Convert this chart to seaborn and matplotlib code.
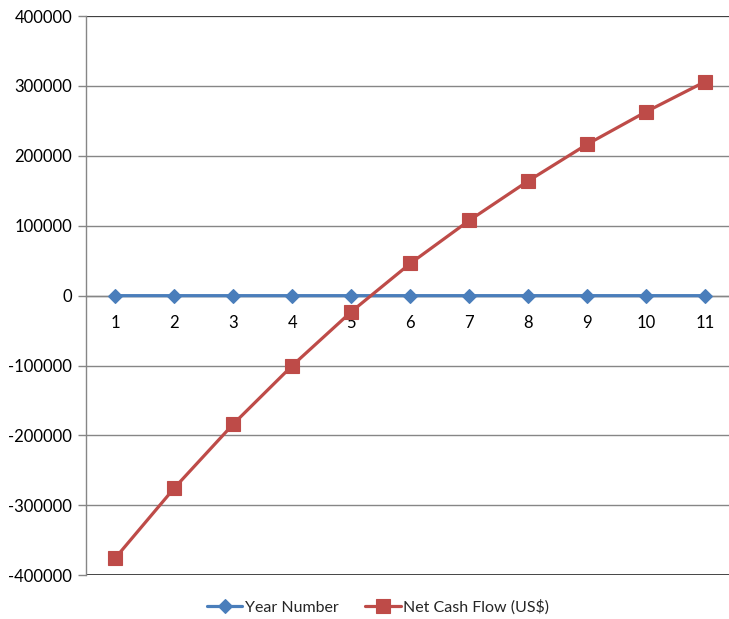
import matplotlib
matplotlib.use("Agg")
import matplotlib.pyplot as plt
from matplotlib.ticker import MultipleLocator, FixedLocator, FuncFormatter
import seaborn as sns
import pandas as pd

# Series data
years = [1, 2, 3, 4, 5, 6, 7, 8, 9, 10, 11]
year_number = [1, 2, 3, 4, 5, 6, 7, 8, 9, 10, 11]
net_cash_flow = [-375000, -275000, -183500, -100000, -23000, 46000,
                 107500, 164000, 216500, 263000, 306000]
series_names = ["Year Number", "Net Cash Flow (US$)"]

df = pd.DataFrame({
    "pos": list(range(len(years))) * 2,
    "value": year_number + net_cash_flow,
    "series": [series_names[0]] * len(years) + [series_names[1]] * len(years),
})

sns.set_theme(style="white")
plt.rcParams["font.family"] = ["Lato", "DejaVu Sans"]

fig = plt.figure(figsize=(7.29, 6.19), dpi=100)
ax = fig.add_axes([86 / 729, 43.7 / 619, 648.5 / 729, 559.3 / 619])

palette = {series_names[0]: "#4A7EBB", series_names[1]: "#BE4B48"}
markers = {series_names[0]: "D", series_names[1]: "s"}
marker_sizes = {series_names[0]: 7.5, series_names[1]: 9.5}

sns.lineplot(data=df, x="pos", y="value", hue="series", style="series",
             hue_order=series_names, style_order=series_names,
             palette=palette, markers=markers, dashes=False,
             linewidth=2.3, markersize=8, markeredgewidth=0.8,
             ax=ax, zorder=3)

# Solid markers: edge in the series colour, size per series
for line, name in zip(ax.lines, series_names):
    line.set_markeredgecolor(line.get_color())
    line.set_markersize(marker_sizes[name])

ax.set_xlim(-0.5, len(years) - 0.5)
ax.set_ylim(-400000, 400000)
ax.yaxis.set_major_locator(MultipleLocator(100000))
ax.yaxis.set_major_formatter(FuncFormatter(lambda v, p: f"{int(v)}"))

# Category axis crossing at zero, labels below it
ax.spines["bottom"].set_position(("data", 0))
ax.spines["bottom"].set_color("#868686")
ax.spines["bottom"].set_linewidth(1.0)
ax.set_xticks(range(len(years)))
ax.set_xticklabels([str(y) for y in years])
ax.xaxis.set_minor_locator(FixedLocator([i + 0.5 for i in range(-1, len(years))]))
ax.tick_params(axis="x", which="major", length=0, pad=14, labelsize=12, colors="black")
ax.tick_params(axis="x", which="minor", length=4, width=1.0, color="#868686", direction="out")

ax.spines["left"].set_color("#868686")
ax.spines["left"].set_linewidth(1.0)
ax.spines["top"].set_visible(False)
ax.spines["right"].set_visible(False)
ax.tick_params(axis="y", which="major", left=True, length=6, width=1.0,
               color="#868686", labelsize=12, labelcolor="black", pad=4)

ax.grid(axis="y", color="#868686", linewidth=1.0)
ax.grid(axis="x", visible=False)
ax.set_axisbelow(True)
for yv in (400000, -400000):
    ax.axhline(yv, color="#3a3a3a", linewidth=1.3, zorder=1)

ax.set_xlabel("")
ax.set_ylabel("")

handles, labels = ax.get_legend_handles_labels()
for h, name in zip(handles, labels):
    h.set_markeredgecolor(h.get_color())
    h.set_markersize(marker_sizes[name])
ax.legend(handles, labels, loc="center", bbox_to_anchor=(378 / 729, 12 / 619),
          bbox_transform=fig.transFigure, ncol=2, frameon=False,
          fontsize=11.5, handlelength=2.2, columnspacing=1.7, handletextpad=0.15,
          borderaxespad=0, borderpad=0)

fig.savefig("out.png", dpi=100)
